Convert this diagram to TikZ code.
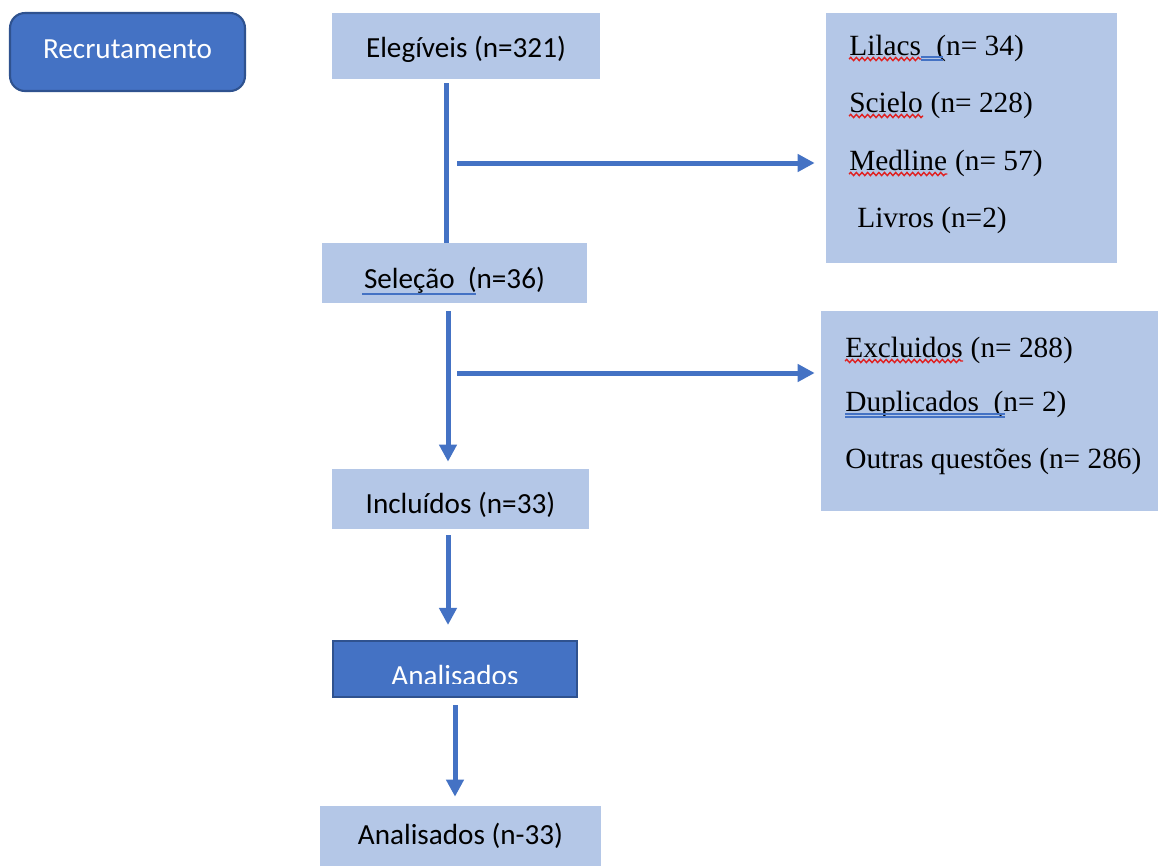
\documentclass[tikz,border=0pt]{standalone}
\usepackage{fontspec}
\setmainfont{Liberation Serif}
\newfontfamily\calibri{Carlito}
\usetikzlibrary{arrows.meta,calc,decorations.pathmorphing}
\definecolor{darkblue}{HTML}{4472C4}
\definecolor{darkedge}{HTML}{2F528F}
\definecolor{lightblue}{HTML}{B4C7E7}
\definecolor{lineblue}{HTML}{4472C4}
\definecolor{wavered}{HTML}{E02020}
\begin{document}
\begin{tikzpicture}[x=0.02cm,y=-0.02cm,
  lightbox/.style={fill=lightblue, draw=none, inner sep=0, text depth=0cm, font=\calibri\fontsize{16.6}{20}\selectfont, text=black},
  darkbox/.style={fill=darkblue, draw=darkedge, line width=1.2pt, inner sep=0, font=\calibri\fontsize{16.6}{20}\selectfont, text=white},
  flow/.style={draw=lineblue, line width=0.1cm},
  flowarrow/.style={flow, -{Triangle[length=0.34cm,width=0.34cm]}},
  serifline/.style={anchor=base west, inner sep=0, font=\fontsize{16.7}{20}\selectfont},
  wavy/.style={draw=wavered, line width=0.8pt, decorate, decoration={snake, amplitude=0.9pt, segment length=3.2pt}},
  spell/.style={draw=lineblue, line width=0.7pt}
]
\useasboundingbox[fill=white] (0,0) rectangle (1171,866);

% left column
\node[darkbox, rounded corners=0.3cm, minimum width=4.7cm, minimum height=1.56cm, text height=0.38cm, text depth=0.14cm] (rec) at (127.5,52) {Recrutamento};
\node[lightbox, minimum width=5.36cm, minimum height=1.32cm, text height=0.44cm] (eleg) at (466,46) {Elegíveis (n=321)};
\node[lightbox, minimum width=5.3cm, minimum height=1.2cm, text height=0.6cm] (sel) at (454.5,273) {Seleção\ \ (n=36)};
\node[lightbox, minimum width=5.14cm, minimum height=1.2cm, text height=0.56cm] (incl) at (460.5,499) {Incluídos (n=33)};
\node[darkbox, minimum width=4.88cm, minimum height=1.12cm] (anal) at (455,669) {};
\begin{scope}
  \clip (anal.north west) rectangle (577,683);
  \node[inner sep=0, anchor=base, font=\calibri\fontsize{16.6}{20}\selectfont, text=white] (analtxt) at (455,685) {Analisados};
\end{scope}
\node[lightbox, minimum width=5.62cm, minimum height=1.2cm, text height=0.32cm] (final) at (460.5,836) {Analisados (n-33)};

% right boxes
\node[lightbox, minimum width=5.82cm, minimum height=5cm] (src) at (971.5,138) {};
\node[lightbox, minimum width=6.74cm, minimum height=4cm] (excl) at (989.5,411) {};

\node[serifline] (lil) at (849,55) {Lilacs};
\node[serifline] (lilr) at (lil.base east) {\ \ (n= 34)};
\node[serifline] (sci) at (849,112) {Scielo};
\node[serifline] (scir) at (sci.base east) {\ (n= 228)};
\node[serifline] (med) at (849,170) {Medline};
\node[serifline] (medr) at (med.base east) {\ (n= 57)};
\node[serifline] (liv) at (857,227) {Livros (n=2)};

\node[serifline] (exc) at (845,357) {Excluidos};
\node[serifline] (excr) at (exc.base east) {\ (n= 288)};
\node[serifline] (dup) at (845,411) {Duplicados\ \ (n= 2)};
\node[serifline] (out) at (845,468) {Outras questões (n= 286)};

% spell-check marks
\draw[wavy] ($(lil.base west)+(0,4)$) -- ($(lil.base east)+(0,4)$);
\draw[spell] ($(lil.base east)+(0,2)$) -- ++(22,0);
\draw[spell] ($(lil.base east)+(0,5)$) -- ++(22,0);
\draw[wavy] ($(sci.base west)+(0,4)$) -- ($(sci.base east)+(0,4)$);
\draw[wavy] ($(med.base west)+(0,4)$) -- ($(med.base east)+(0,4)$);
\draw[wavy] ($(exc.base west)+(0,4)$) -- ($(exc.base east)+(0,4)$);
\draw[spell] ($(dup.base west)+(0,3)$) -- ++(160,0);
\draw[spell] ($(dup.base west)+(0,6)$) -- ++(160,0);
\draw[draw=lineblue, line width=1.1pt] ($(sel.center)+(-92.5,21)$) -- ($(sel.center)+(21.5,21)$);

% connectors
\coordinate (j1) at (446,83);
\draw[flow] (j1) -- (j1 |- sel.north);
\coordinate (b1) at (457,163);
\draw[flowarrow, shorten >=0.22cm] (b1) -- (b1 -| src.west);
\coordinate (j2) at (448,311);
\draw[flowarrow] (j2) -- ($(j2 |- incl.north)+(0,-7)$);
\coordinate (b2) at (457,373);
\draw[flowarrow, shorten >=0.12cm] (b2) -- (b2 -| excl.west);
\coordinate (j3) at (448,535);
\draw[flowarrow] (j3) -- ($(j3 |- anal.north)+(0,-15)$);
\coordinate (j4) at (455,705);
\draw[flowarrow] (j4) -- ($(j4 |- final.north)+(0,-9)$);
\end{tikzpicture}
\end{document}
